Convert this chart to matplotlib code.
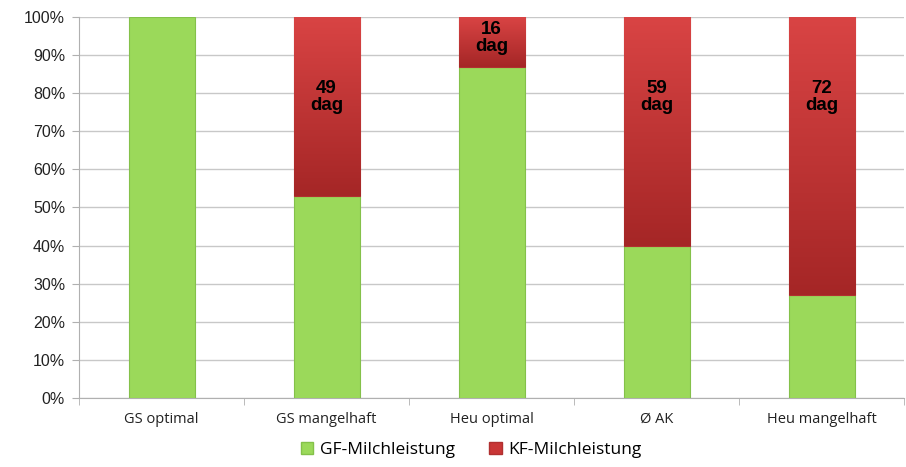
import numpy as np
import matplotlib.pyplot as plt
from matplotlib.patches import Patch
from matplotlib.colors import LinearSegmentedColormap

categories = ["GS optimal", "GS mangelhaft", "Heu optimal", "Ø AK", "Heu mangelhaft"]
gf_share = [100, 53, 87, 40, 27]
kf_share = [0, 47, 13, 60, 73]
bar_labels = ["", "49\ndag", "16\ndag", "59\ndag", "72\ndag"]
label_y = [0, 79, 94.5, 79, 79]
yticks = list(range(0, 101, 10))

green = "#9bd95a"
red_cmap = LinearSegmentedColormap.from_list("red", ["#a52626", "#d94444"])

fig = plt.figure(figsize=(9.06, 4.67), dpi=100)
ax = fig.add_axes([0.0872, 0.1478, 0.911, 0.8158])

x = np.arange(len(categories))
width = 0.4
ax.bar(x, gf_share, width, color=green, edgecolor="#84c14a", linewidth=0.8, zorder=3)
red_edges = ["none" if v == 0 else "#b03030" for v in kf_share]
reds = ax.bar(x, kf_share, width, bottom=gf_share, color="#c93636",
              edgecolor=red_edges, linewidth=0.8, zorder=3)

# vertical gradient on red segments
grad = np.linspace(0, 1, 256).reshape(-1, 1)
for i, r in enumerate(reds):
    if kf_share[i] == 0:
        continue
    x0 = x[i] - width / 2
    im = ax.imshow(grad, cmap=red_cmap, aspect="auto", origin="lower",
                   extent=[x0, x0 + width, gf_share[i], gf_share[i] + kf_share[i]],
                   zorder=3.5)
    im.set_clip_path(r)

for i, lab in enumerate(bar_labels):
    if lab:
        ax.text(x[i], label_y[i], lab, ha="center", va="center", fontsize=13.5,
                fontweight="bold", family="Liberation Sans", color="black",
                linespacing=1.05, zorder=5)

ax.set_xlim(-0.5, len(categories) - 0.5)
ax.set_ylim(0, 100)
ax.set_yticks(yticks)
ax.set_yticklabels([f"{t}%" for t in yticks], fontsize=11.5, family="Liberation Sans",
                   color="#222222")
ax.yaxis.grid(True, color="#c8c8c8", linewidth=1, zorder=0)
ax.set_axisbelow(True)

ax.set_xticks(x)
ax.set_xticklabels(categories, fontsize=10.5, family="Open Sans", color="#222222")
ax.set_xticks(np.arange(-0.5, len(categories)), minor=True)
ax.tick_params(axis="x", which="major", length=0, pad=10)
ax.tick_params(axis="x", which="minor", length=5, color="#b0b0b0")
ax.tick_params(axis="y", length=5, color="#b0b0b0", pad=5)

for s in ["top", "right"]:
    ax.spines[s].set_visible(False)
for s in ["left", "bottom"]:
    ax.spines[s].set_color("#b0b0b0")

handles = [Patch(facecolor=green, edgecolor="#84c14a"),
           Patch(facecolor="#c93636", edgecolor="#b03030")]
fig.legend(handles, ["GF-Milchleistung", "KF-Milchleistung"], loc="lower center",
           bbox_to_anchor=(0.52, -0.015), ncol=2, frameon=False,
           prop={"family": "Open Sans", "size": 12.5}, handlelength=0.7,
           handleheight=0.7, handletextpad=0.4, columnspacing=2.0)

fig.savefig("out.png", dpi=100)
